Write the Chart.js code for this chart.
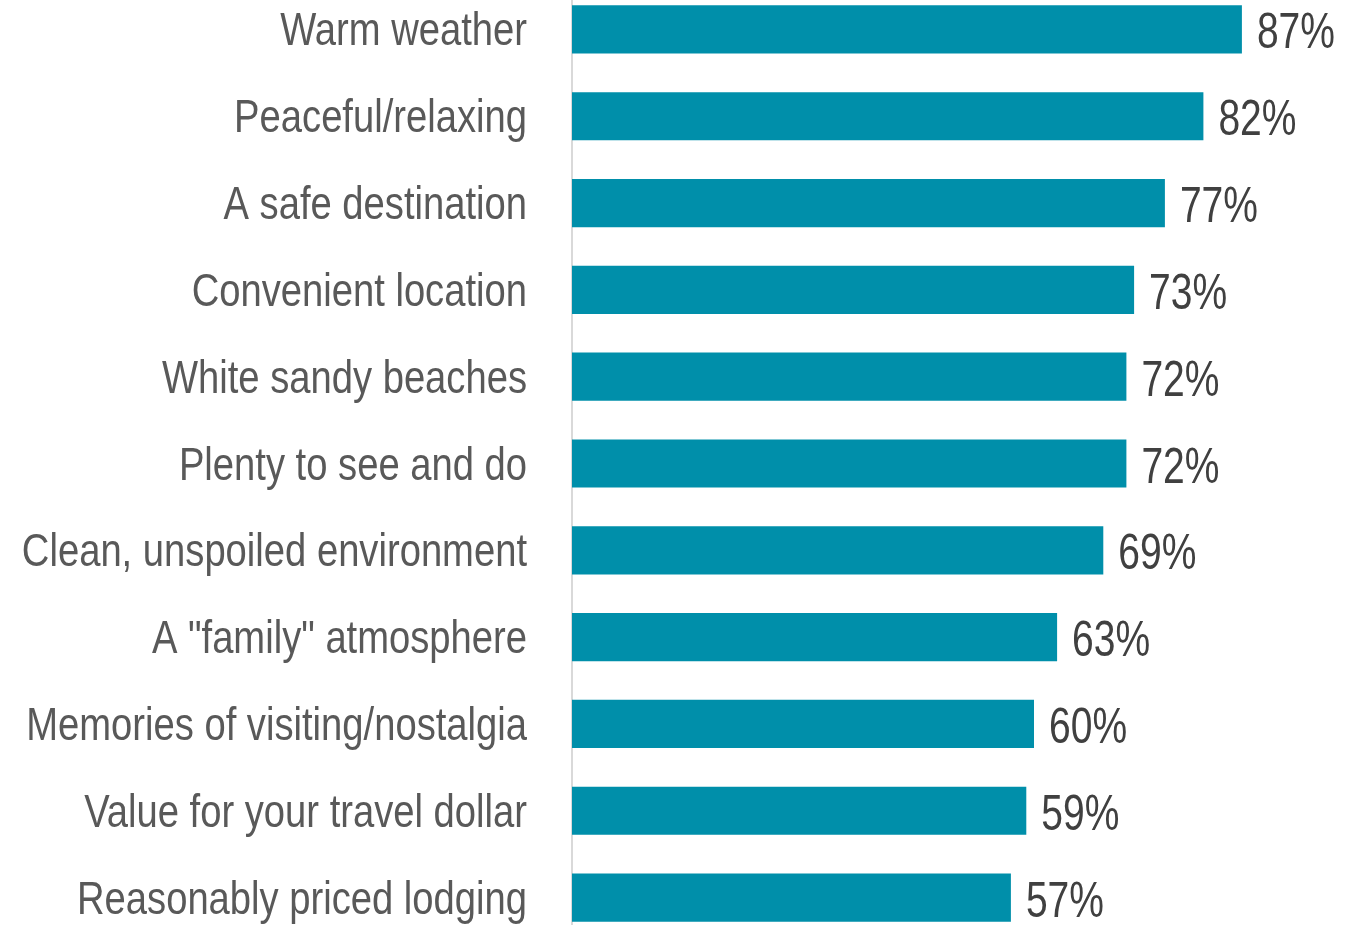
<!DOCTYPE html>
<html>
<head>
<meta charset="utf-8">
<script src="https://cdn.jsdelivr.net/npm/chart.js@4"></script>
<style>
  html, body { margin: 0; padding: 0; background: #fff; overflow: hidden; }
  #wrap { position: absolute; left: 0; top: -14px; width: 1365px; height: 955px; }
</style>
</head>
<body>
<div id="wrap"><canvas id="barChart"></canvas></div>
<script>
const categories = [
  'Warm weather',
  'Peaceful/relaxing',
  'A safe destination',
  'Convenient location',
  'White sandy beaches',
  'Plenty to see and do',
  'Clean, unspoiled environment',
  'A "family" atmosphere',
  'Memories of visiting/nostalgia',
  'Value for your travel dollar',
  'Reasonably priced lodging'
];
const values = [87, 82, 77, 73, 72, 72, 69, 63, 60, 59, 57];
const valueLabels = values.map(v => v + '%');

// no narrow face installed, so squeeze Liberation Sans horizontally
const FONT = '"Liberation Sans", Arial, sans-serif';
const LABEL_SQUEEZE = 0.83;
const VALUE_SQUEEZE = 0.78;

function squeezedText(ctx, text, x, y, k) {
  ctx.save();
  ctx.translate(x, y);
  ctx.scale(k, 1);
  ctx.fillText(text, 0, 0);
  ctx.restore();
}

// category labels drawn at the y scale's tick positions
const categoryLabelPlugin = {
  id: 'categoryLabels',
  afterDraw(chart) {
    const ctx = chart.ctx;
    const yScale = chart.scales.y;
    ctx.save();
    ctx.font = '46px ' + FONT;
    ctx.fillStyle = '#595959';
    ctx.textAlign = 'right';
    ctx.textBaseline = 'alphabetic';
    categories.forEach((label, i) => {
      squeezedText(ctx, label, yScale.right - 45, yScale.getPixelForTick(i) + 16, LABEL_SQUEEZE);
    });
    ctx.restore();
  }
};

// % label at the end of each bar
const valueLabelPlugin = {
  id: 'valueLabels',
  afterDatasetsDraw(chart) {
    const ctx = chart.ctx;
    const meta = chart.getDatasetMeta(0);
    ctx.save();
    ctx.font = '50px ' + FONT;
    ctx.fillStyle = '#404040';
    ctx.textAlign = 'left';
    ctx.textBaseline = 'alphabetic';
    meta.data.forEach((bar, i) => {
      squeezedText(ctx, valueLabels[i], bar.x + 15, bar.y + 19, VALUE_SQUEEZE);
    });
    ctx.restore();
  }
};

const canvas = document.getElementById('barChart');
const ctx = canvas.getContext('2d');

new Chart(ctx, {
  type: 'bar',
  data: {
    labels: categories,
    datasets: [{
      data: values,
      backgroundColor: '#008FAA',
      barPercentage: 0.555,
      categoryPercentage: 1.0
    }]
  },
  options: {
    indexAxis: 'y',
    responsive: true,
    maintainAspectRatio: false,
    animation: false,
    layout: { padding: { left: 0, right: 23, top: 0, bottom: 0 } },
    plugins: {
      legend: { display: false },
      tooltip: { enabled: false }
    },
    scales: {
      x: {
        display: false,
        min: 0,
        max: 100
      },
      y: {
        grid: { display: false, drawTicks: false },
        border: { display: true, color: '#d9d9d9', width: 2 },
        ticks: { display: false },
        afterFit(scale) {
          scale.width = 572;
          scale.paddingTop = 0;
          scale.paddingBottom = 0;
        }
      }
    }
  },
  plugins: [valueLabelPlugin, categoryLabelPlugin]
});
</script>
</body>
</html>
